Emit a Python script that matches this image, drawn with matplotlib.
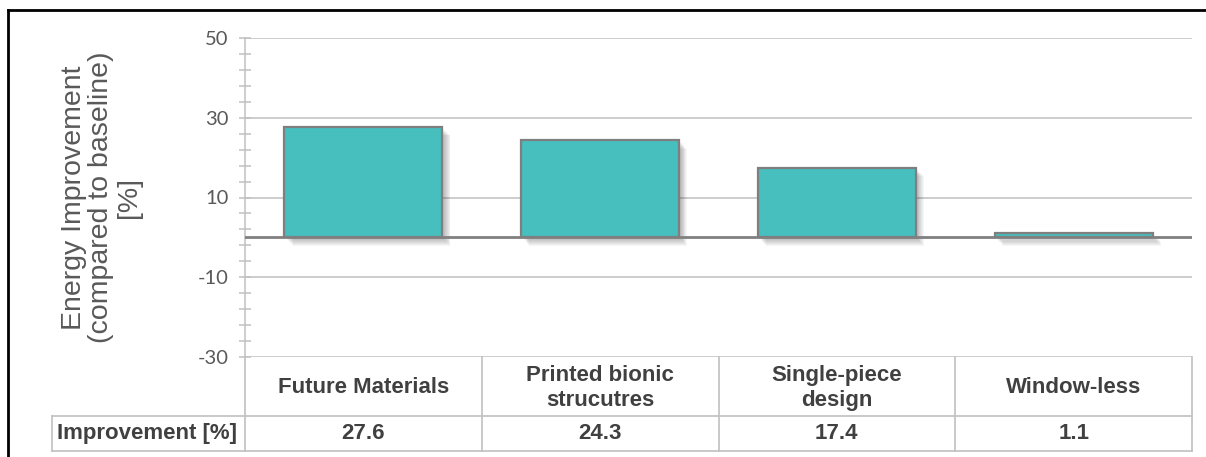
import matplotlib
matplotlib.use("Agg")
import matplotlib.pyplot as plt
import matplotlib.transforms as mtransforms
from matplotlib.patches import Rectangle
from matplotlib.lines import Line2D
import numpy as np

plt.rcParams["axes.unicode_minus"] = False

# ---- data ----
categories = ["Future Materials", "Printed bionic\nstrucutres", "Single-piece\ndesign", "Window-less"]
improvement = [27.6, 24.3, 17.4, 1.1]
row_label = "Improvement [%]"
y_label = "Energy Improvement\n(compared to baseline)\n[%]"
y_major = [-30, -10, 10, 30, 50]

W, H, DPI = 1206, 457, 100
fig = plt.figure(figsize=(W / DPI, H / DPI), dpi=DPI)
fig.patch.set_facecolor("white")

# axes placed in pixel terms
x0, x1, ytop, ybot = 245, 1192, 38, 357
ax = fig.add_axes([x0 / W, 1 - ybot / H, (x1 - x0) / W, (ybot - ytop) / H])

TEAL = "#47BFBE"
EDGE = "#7F7F7F"
GRID = "#C0C0C0"
TXT = "#595959"
TAB = "#404040"

n = len(categories)
xs = np.arange(n)
bar_w = 0.667

ax.set_xlim(-0.5, n - 0.5)
ax.set_ylim(-30, 50)

# soft drop shadows under bars
for k in range(1, 10):
    off = mtransforms.offset_copy(ax.transData, fig=fig, x=k * 0.65, y=-k * 0.65, units="points")
    for xi, v in zip(xs, improvement):
        ax.add_patch(Rectangle((xi - bar_w / 2, 0), bar_w, v, transform=off,
                               facecolor="black", edgecolor="none", alpha=0.035, zorder=2))

ax.bar(xs, improvement, width=bar_w, color=TEAL, edgecolor=EDGE, linewidth=1.6, zorder=3)

# zero line
ax.axhline(0, color="#808080", linewidth=2.0, zorder=4)

# grid + ticks
ax.set_yticks(y_major)
ax.set_yticks(np.arange(-30, 51, 4), minor=True)
ax.yaxis.grid(True, which="major", color=GRID, linewidth=1.1, zorder=1)
ax.set_axisbelow(True)
ax.tick_params(axis="y", which="both", direction="inout", length=8, width=1.1,
               color=GRID, labelsize=14.5, labelcolor=TXT, pad=8)
ax.tick_params(axis="x", which="both", bottom=False, labelbottom=False)
for lab in ax.get_yticklabels():
    lab.set_family("Lato")
for s in ["top", "right", "bottom"]:
    ax.spines[s].set_visible(False)
ax.spines["left"].set_color(GRID)
ax.spines["left"].set_linewidth(1.1)

ax.set_ylabel(y_label, fontsize=20.5, color=TXT, family="Liberation Sans", linespacing=1.08)
ax.yaxis.set_label_coords(-(x0 - 142) / (x1 - x0), 0.5)

# data table beneath the plot
tr = mtransforms.blended_transform_factory(ax.transData, ax.transAxes)
ah = ybot - ytop
r1 = -(416 - ybot) / ah
r2 = -(451 - ybot) / ah
left_x = -0.5 - (x0 - 52) / (x1 - x0) * n
lkw = dict(color=GRID, linewidth=1.2, transform=tr, clip_on=False, zorder=5)
# horizontal rules
ax.add_line(Line2D([left_x, n - 0.5], [r1, r1], **lkw))
ax.add_line(Line2D([left_x, n - 0.5], [r2, r2], **lkw))
# vertical rules
for xb in np.arange(-0.5, n, 1.0):
    ax.add_line(Line2D([xb, xb], [0, r2], **lkw))
ax.add_line(Line2D([left_x, left_x], [r1, r2], **lkw))

tkw = dict(transform=tr, ha="center", va="center", fontsize=16, fontweight="bold",
           color=TAB, family="Liberation Sans", clip_on=False, linespacing=1.22)
for xi, c, v in zip(xs, categories, improvement):
    ax.text(xi, r1 / 2 - 0.004, c, **tkw)
    ax.text(xi, (r1 + r2) / 2, f"{v:.1f}", **tkw)
ax.text(left_x + 5 / (x1 - x0) * n, (r1 + r2) / 2, row_label,
        **{**tkw, "ha": "left"})

# outer frame
fig.add_artist(Line2D([8 / W, 8 / W], [0, 1 - 10 / H], color="black", linewidth=2.0,
                      transform=fig.transFigure))
fig.add_artist(Line2D([8 / W, 1], [1 - 10 / H, 1 - 10 / H], color="black", linewidth=2.0,
                      transform=fig.transFigure))

fig.savefig("out.png", dpi=DPI, facecolor="white")
